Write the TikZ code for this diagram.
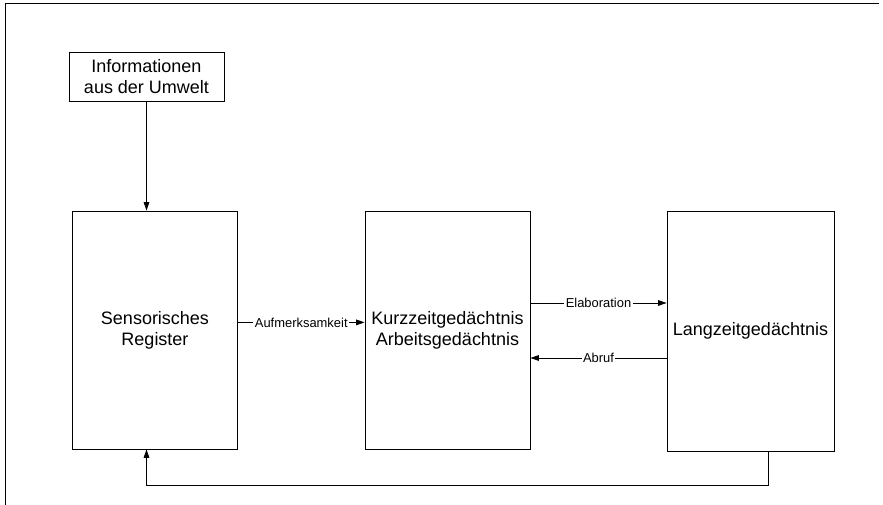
\documentclass[tikz,border=0pt]{standalone}
\usepackage{fontspec}
\setmainfont{Liberation Sans}
\usetikzlibrary{arrows, arrows.meta}

\begin{document}
\begin{tikzpicture}[>={Triangle[length=6pt,width=4pt]},
  kasten/.style={draw, line width=0.6pt, align=center, font=\fontsize{12.8}{15}\selectfont},
  speicher/.style={kasten, minimum width=4.125cm, minimum height=5.95cm},
  beschr/.style={fill=white, inner sep=1pt, font=\fontsize{9.2}{11}\selectfont}]
%\draw[step=0.5cm,gray,very thin] (0,0) grid (22,12.5); %background grid
\useasboundingbox (0,0) rectangle (22.075,12.625);
\draw[line width=0.7pt] (0.125,0) -- (0.125,12.525) -- (21.975,12.525);
\node[kasten, minimum width=3.875cm, minimum height=1.225cm] (info) at (3.6625,10.7125) {Informationen\\aus der Umwelt};
\node[speicher] (sensor) at (3.875,4.375) {Sensorisches\\Register};
\node[speicher] (kurz) at (11.1875,4.375) {Kurzzeitged\"achtnis\\Arbeitsged\"achtnis};
\node[speicher, minimum width=4.175cm, minimum height=6cm] (lang) at (18.7625,4.35) {Langzeitged\"achtnis};
\coordinate (unten) at (0,0.5);
\draw[->, line width=0.6pt] (info.south) -- (info.south |- sensor.north);
\draw[->, line width=0.6pt] ([yshift=0.19cm]sensor.east) -- ([yshift=0.19cm]kurz.west) node[midway, beschr] {Aufmerksamkeit};
\draw[->, line width=0.6pt] ([yshift=0.675cm]kurz.east) -- ([yshift=0.675cm]kurz.east -| lang.west) node[midway, beschr] {Elaboration};
\draw[->, line width=0.6pt] ([yshift=-0.7cm]kurz.east -| lang.west) -- ([yshift=-0.7cm]kurz.east) node[midway, beschr] {Abruf};
\draw[->, line width=0.6pt] ([xshift=0.4375cm]lang.south) |- (info.south |- unten) -- (info.south |- sensor.south);
\end{tikzpicture}
\end{document}
